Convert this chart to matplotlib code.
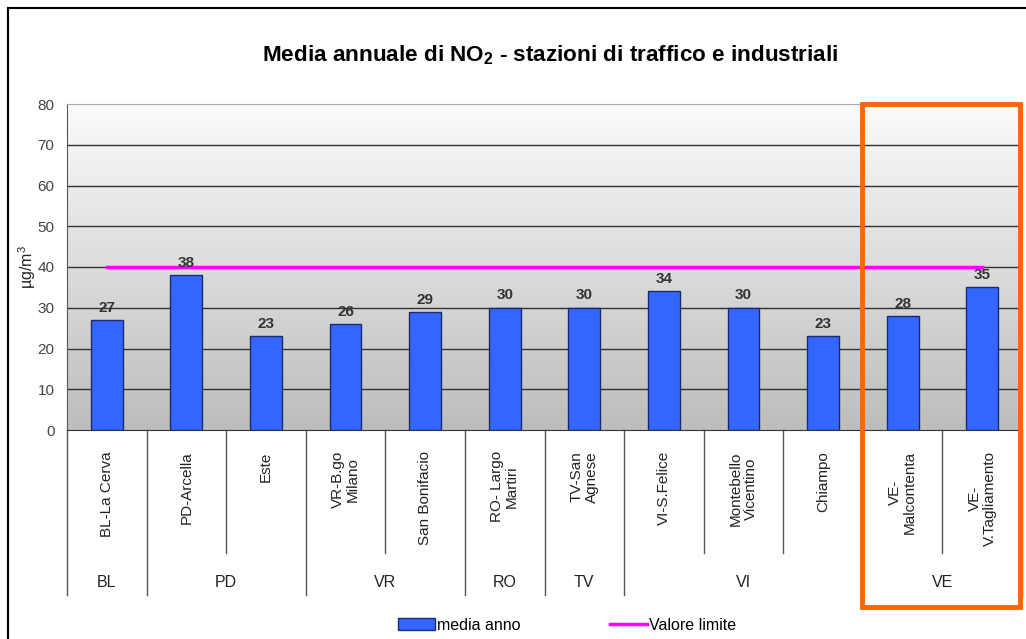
import matplotlib.pyplot as plt
import numpy as np
from matplotlib.patches import Rectangle, Patch
from matplotlib.lines import Line2D

plt.rcParams['font.family'] = ['Liberation Sans', 'DejaVu Sans']
plt.rcParams['mathtext.default'] = 'regular'

# data
stations = ["BL-La Cerva", "PD-Arcella", "Este", "VR-B.go\nMilano", "San Bonifacio",
            "RO- Largo\nMartiri", "TV-San\nAgnese", "VI-S.Felice", "Montebello\nVicentino",
            "Chiampo", "VE-\nMalcontenta", "VE-\nV.Tagliamento"]
media_anno = [27, 38, 23, 26, 29, 30, 30, 34, 30, 23, 28, 35]
provinces = ["BL", "PD", "VR", "RO", "TV", "VI", "VE"]
province_sizes = [1, 2, 2, 1, 1, 3, 2]
valore_limite = 40

fig = plt.figure(figsize=(10.26, 6.39), dpi=100)
ax = fig.add_axes([67 / 1026, 1 - 430 / 639, 955 / 1026, 326 / 639])

x = np.arange(len(stations))
ax.set_xlim(-0.5, len(stations) - 0.5)
ax.set_ylim(0, 80)

# gradient background
grad = np.linspace(0, 1, 256).reshape(-1, 1)
ax.imshow(grad, extent=[-0.5, len(stations) - 0.5, 0, 80], aspect='auto',
          cmap=plt.matplotlib.colors.LinearSegmentedColormap.from_list("g", ["#bdbdbd", "#fbfbfb"]),
          origin='lower', zorder=0)

for v in range(10, 80, 10):
    ax.axhline(v, color="#333333", lw=1, zorder=1)

ax.bar(x, media_anno, width=0.4, color="#3366ff", edgecolor="#1a2a6a", lw=1, zorder=3)
ax.plot([x[0], x[-1]], [valore_limite, valore_limite], color="#ff00ff", lw=2.5, zorder=2)

for xi, v in zip(x, media_anno):
    ax.text(xi, v + 1.3, str(v), ha='center', va='bottom', fontsize=11,
            fontweight='bold', color="#333333", zorder=4)

ax.set_xticks([])
ax.set_yticks(range(0, 81, 10))
ax.tick_params(axis='y', length=0, labelsize=11, labelcolor="#444444", pad=9)
for s in ["top", "right"]:
    ax.spines[s].set_color("#aaaaaa")
ax.spines["left"].set_color("#555555")
ax.spines["bottom"].set_color("#333333")
ax.set_ylabel("µg/m$^3$", fontsize=11.5, color="#222222", labelpad=0)

# category labels and separators below the axis
for xi, name in zip(x, stations):
    ax.text(xi, -5.2, name, rotation=90, ha='center', va='top', fontsize=11,
            color="#222222", multialignment='center', linespacing=1.05, clip_on=False)

bounds = np.concatenate([[0], np.cumsum(province_sizes)])
for b in range(len(stations) + 1):
    bottom = -40.5 if b in bounds else -30.2
    ax.plot([b - 0.5, b - 0.5], [0, bottom], color="#555555", lw=1, clip_on=False)
for i, prov in enumerate(provinces):
    center = (bounds[i] + bounds[i + 1]) / 2 - 0.5
    ax.text(center, -37.5, prov, ha='center', va='center', fontsize=11.5,
            color="#222222", clip_on=False)

fig.suptitle("Media annuale di NO$_2$ - stazioni di traffico e industriali",
             x=550 / 1026, y=1 - 55 / 639, va='center', fontsize=16.2, fontweight='bold')

handles = [Patch(facecolor="#3366ff", edgecolor="#1a2a6a"),
           Line2D([0], [0], color="#ff00ff", lw=2.5)]
fig.legend(handles, ["media anno", "Valore limite"], loc='center',
           bbox_to_anchor=(567 / 1026, 1 - 625 / 639), ncol=2, frameon=False,
           fontsize=11.5, handlelength=2.3, columnspacing=5.6, handletextpad=0.15)

# highlight box around VE
fig.add_artist(Rectangle((862 / 1026, 1 - 607 / 639), 158 / 1026, 503 / 639,
                         transform=fig.transFigure, fill=False, edgecolor="#ff6600", lw=3.5))
# outer frame
fig.add_artist(Line2D([8 / 1026, 8 / 1026], [0, 1 - 8 / 639], transform=fig.transFigure,
                      color="black", lw=1.5))
fig.add_artist(Line2D([8 / 1026, 1], [1 - 8 / 639, 1 - 8 / 639], transform=fig.transFigure,
                      color="black", lw=1.5))

fig.savefig("out.png", dpi=100)
